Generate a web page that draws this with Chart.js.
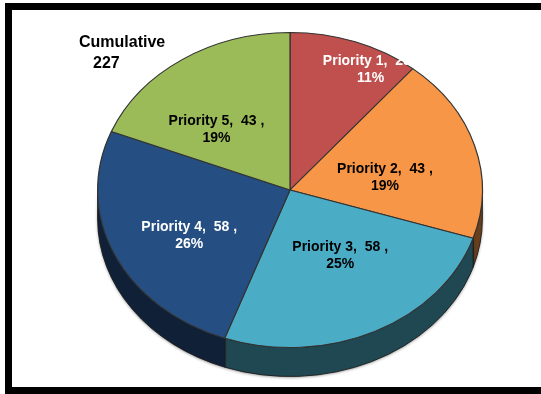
<!DOCTYPE html>
<html>
<head>
<meta charset="utf-8">
<script src="https://cdn.jsdelivr.net/npm/chart.js@4/dist/chart.umd.min.js"></script>
<style>
  html, body { margin: 0; padding: 0; background: #fff; }
  #frame { position: absolute; left: 5px; top: 3px; width: 560px; height: 377px; border: 7px solid #000; }
  #wrap { position: absolute; left: 0; top: 0; width: 541px; height: 394px; }
</style>
</head>
<body>
<div id="frame"></div>
<div id="wrap"><canvas id="pieChart" width="541" height="394"></canvas></div>
<script>
const categories = ['Priority 1', 'Priority 2', 'Priority 3', 'Priority 4', 'Priority 5'];
const counts = [25, 43, 58, 58, 43];
const percentLabels = ['11%', '19%', '25%', '26%', '19%'];
const totalLabel = ['Cumulative', '227'];

const sliceColors = ['#C0504D', '#F79646', '#4BACC6', '#254F82', '#9BBB59'];
const labelColors = ['#ffffff', '#000000', '#000000', '#ffffff', '#000000'];
// label nudges: [angle offset in deg, fraction of radius]
const labelNudge = [[9, 0.87], [7, 0.5], [-6, 0.49], [-5, 0.6], [-11, 0.54]];

const stretch = 193 / 158;   // widen the circle into an ellipse
const depth = 29;            // height of the 3d wall

function shade(hex, f) {
  const n = parseInt(hex.slice(1), 16);
  const r = Math.round(((n >> 16) & 255) * f);
  const g = Math.round(((n >> 8) & 255) * f);
  const b = Math.round((n & 255) * f);
  return `rgb(${r},${g},${b})`;
}

const pie3d = {
  id: 'pie3d',
  beforeDatasetsDraw(chart) {
    const ctx = chart.ctx;
    const arcs = chart.getDatasetMeta(0).data;
    const { x, y, outerRadius } = arcs[0];
    ctx.save();
    ctx.translate(x, y);
    ctx.scale(stretch, 1);
    ctx.translate(-x, -y);

    // front wall, only the part facing the viewer
    arcs.forEach((arc, i) => {
      const a0 = Math.max(arc.startAngle, 0);
      const a1 = Math.min(arc.endAngle, Math.PI);
      if (a1 <= a0) return;
      ctx.save();
      ctx.shadowColor = 'rgba(0,0,0,0.45)';
      ctx.shadowBlur = 3;
      ctx.shadowOffsetY = 1;
      ctx.beginPath();
      ctx.arc(x, y, outerRadius, a0, a1);
      ctx.arc(x, y + depth, outerRadius, a1, a0, true);
      ctx.closePath();
      ctx.fillStyle = shade(sliceColors[i], 0.42);
      ctx.fill();
      ctx.restore();
      ctx.lineWidth = 0.8;
      ctx.strokeStyle = '#1a1a1a';
      ctx.stroke();
    });
  },
  afterDatasetsDraw(chart) {
    const ctx = chart.ctx;
    ctx.restore();

    const arcs = chart.getDatasetMeta(0).data;
    ctx.save();
    ctx.font = 'bold 14px "Liberation Sans", Arial, sans-serif';
    ctx.textAlign = 'center';
    ctx.textBaseline = 'middle';
    arcs.forEach((arc, i) => {
      const mid = (arc.startAngle + arc.endAngle) / 2 + labelNudge[i][0] * Math.PI / 180;
      const r = arc.outerRadius * labelNudge[i][1];
      const lx = arc.x + Math.cos(mid) * r * stretch;
      const ly = arc.y + Math.sin(mid) * r;
      ctx.fillStyle = labelColors[i];
      ctx.fillText(`${categories[i]},  ${counts[i]} ,`, lx, ly - 8.5);
      ctx.fillText(percentLabels[i], lx, ly + 8.5);
    });

    // total in the top left corner
    ctx.fillStyle = '#000';
    ctx.font = 'bold 16px "Liberation Sans", Arial, sans-serif';
    ctx.textAlign = 'left';
    ctx.textBaseline = 'alphabetic';
    ctx.fillText(totalLabel[0], 79, 47);
    ctx.fillText(totalLabel[1], 93, 68);
    ctx.restore();
  }
};

new Chart(document.getElementById('pieChart'), {
  type: 'pie',
  data: {
    labels: categories,
    datasets: [{
      data: counts,
      backgroundColor: sliceColors,
      borderColor: '#333333',
      borderWidth: 1,
      clip: false
    }]
  },
  options: {
    responsive: false,
    devicePixelRatio: 1,
    animation: false,
    layout: { padding: { left: 132, right: 93, top: 32, bottom: 46 } },
    plugins: {
      legend: { display: false },
      tooltip: { enabled: false }
    }
  },
  plugins: [pie3d]
});
</script>
</body>
</html>
